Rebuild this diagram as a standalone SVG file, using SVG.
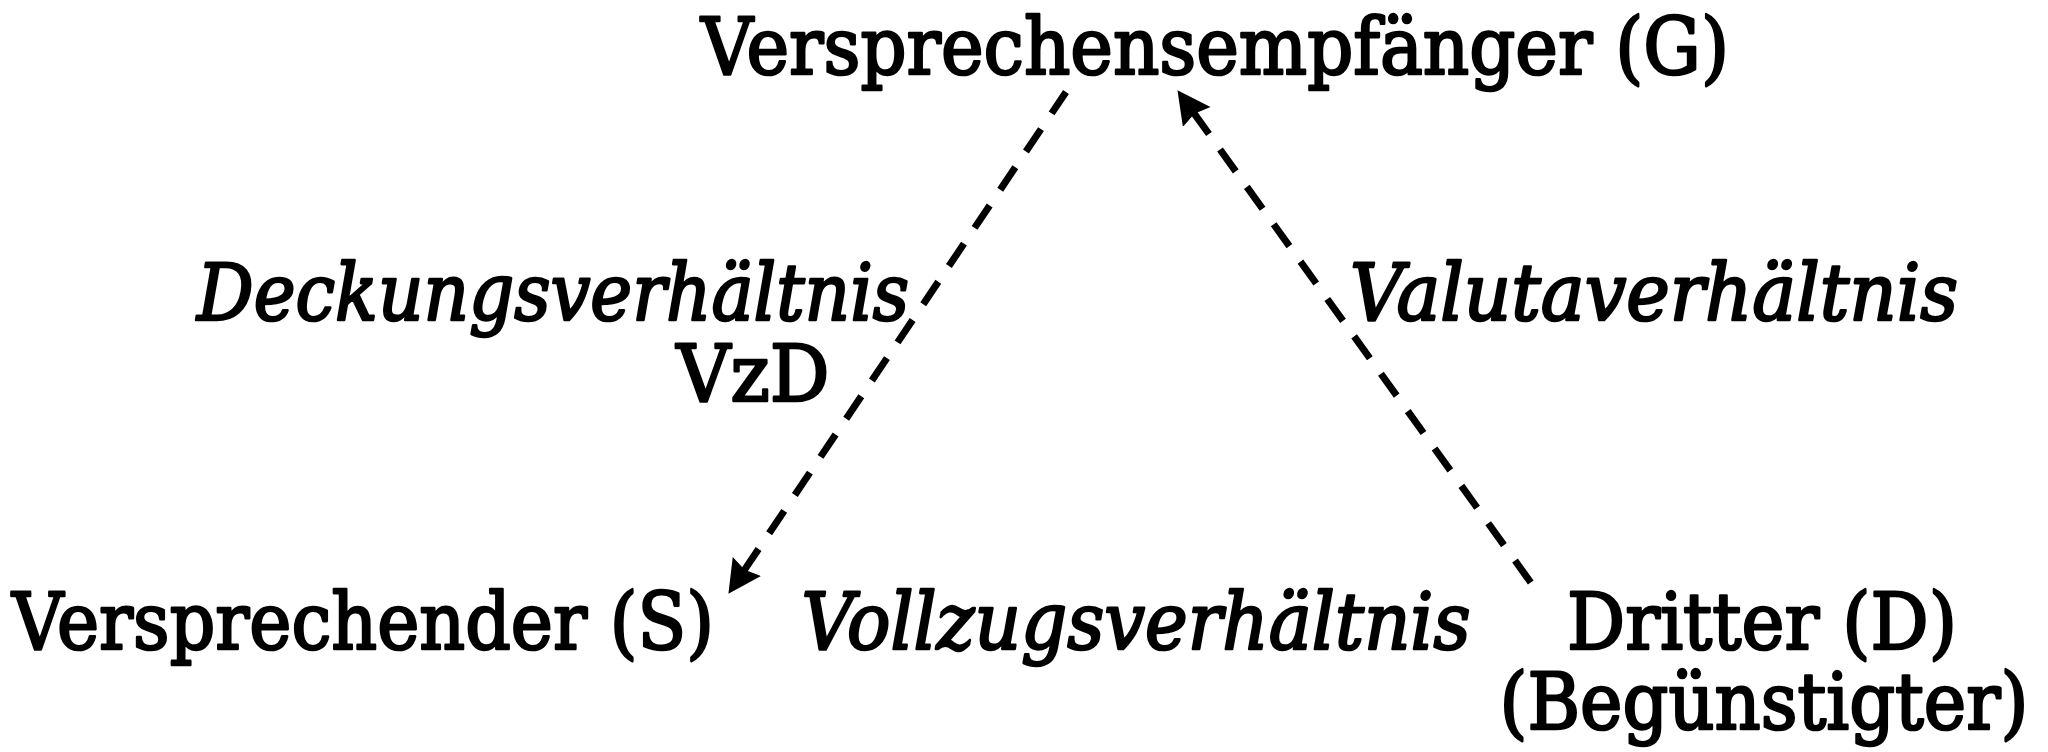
<svg xmlns="http://www.w3.org/2000/svg" width="2048" height="752" viewBox="0 0 2048 752">
  <style>
    text { font-family: "DejaVu Serif", "Liberation Serif", serif; fill: #000; stroke: #000; stroke-width: 2.6; stroke-linejoin: round; font-size: 79px; text-anchor: middle; }
    .rel { font-style: italic; }
    .edge { fill: none; stroke: #000; stroke-width: 7; stroke-dasharray: 27 19; }
  </style>
  <defs>
    <!-- arrowhead drawn at the start of each path, pointing back along it -->
    <marker id="head" markerUnits="userSpaceOnUse" markerWidth="40" markerHeight="40" refX="6" refY="17" orient="auto-start-reverse">
      <path d="M0,0 L33,17 L0,34 L4,17 Z" fill="#000"/>
    </marker>
  </defs>
  <rect width="2048" height="752" fill="#fff"/>

  <g id="edges">
    <!-- G to S: Deckungsverhältnis (arrow at S) -->
    <path class="edge" d="M743.5,571.4 L1066,92" marker-start="url(#head)"/>
    <!-- D to G: Valutaverhältnis (arrow at G) -->
    <path class="edge" d="M1193.2,112.1 L1539,594" marker-start="url(#head)"/>
  </g>

  <g id="node-G"><text x="1215" y="74" textLength="1028" lengthAdjust="spacingAndGlyphs">Versprechensempfänger (G)</text></g>
  <g id="node-S"><text x="363" y="649" textLength="702" lengthAdjust="spacingAndGlyphs">Versprechender (S)</text></g>
  <g id="node-D">
    <text x="1762" y="649" textLength="390" lengthAdjust="spacingAndGlyphs">Dritter (D)</text>
    <text x="1764" y="729" textLength="529" lengthAdjust="spacingAndGlyphs">(Begünstigter)</text>
  </g>

  <g id="label-deckung">
    <text class="rel" x="553" y="320" textLength="712" lengthAdjust="spacingAndGlyphs">Deckungsverhältnis</text>
    <text x="753" y="401" textLength="153" lengthAdjust="spacingAndGlyphs">VzD</text>
  </g>
  <g id="label-valuta"><text class="rel" x="1654" y="320" textLength="608" lengthAdjust="spacingAndGlyphs">Valutaverhältnis</text></g>
  <g id="label-vollzug"><text class="rel" x="1136" y="649" textLength="669" lengthAdjust="spacingAndGlyphs">Vollzugsverhältnis</text></g>
</svg>
